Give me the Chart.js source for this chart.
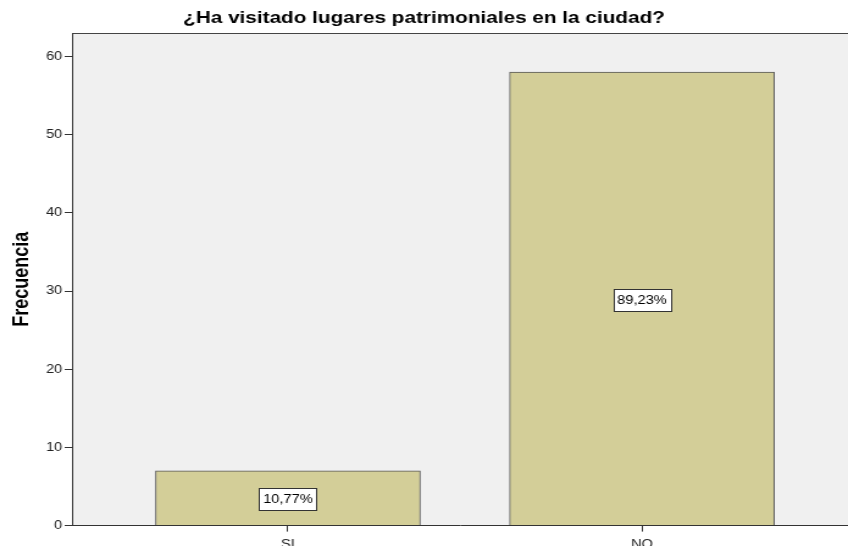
<!DOCTYPE html>
<html>
<head>
<meta charset="utf-8">
<script src="https://cdn.jsdelivr.net/npm/chart.js@4/dist/chart.umd.min.js"></script>
<style>
html,body{margin:0;padding:0;background:#fff;overflow:hidden;width:848px;height:546px;}
#wrap{width:695px;height:558px;position:relative;transform:scaleX(1.2201);transform-origin:0 0;}
</style>
</head>
<body>
<div id="wrap"><canvas id="c" width="695" height="558"></canvas></div>
<script>
const categories = ['SI', 'NO'];
const frequencies = [7, 58];
const percentLabels = ['10,77%', '89,23%'];
const yTicks = [0, 10, 20, 30, 40, 50, 60];
const titleText = '¿Ha visitado lugares patrimoniales en la ciudad?';
const yTitle = 'Frecuencia';

const dataPoints = categories.map((c, i) => ({x: i + 1, y: frequencies[i]}));
const FONT = '"Liberation Sans", Arial, sans-serif';

const framePlugin = {
  id: 'frame',
  beforeDraw(chart) {
    const {ctx, chartArea: a} = chart;
    ctx.save();
    ctx.fillStyle = '#f0f0f0';
    ctx.fillRect(a.left, a.top, a.right - a.left, a.bottom - a.top);
    ctx.strokeStyle = '#444';
    ctx.lineWidth = 1;
    ctx.beginPath();
    ctx.moveTo(a.left, a.top + 0.5);
    ctx.lineTo(a.right, a.top + 0.5);
    ctx.stroke();
    ctx.restore();
  },
  afterDatasetsDraw(chart) {
    const {ctx} = chart;
    const meta = chart.getDatasetMeta(0);
    ctx.save();
    ctx.font = '12px ' + FONT;
    ctx.textAlign = 'center';
    ctx.textBaseline = 'middle';
    meta.data.forEach((bar, i) => {
      const cx = bar.x;
      const cy = (bar.y + bar.base) / 2 + 1;
      const w = 47, h = 22;
      const x0 = Math.round(cx - w / 2) + 0.5, y0 = Math.round(cy - h / 2) + 0.5;
      ctx.fillStyle = '#ffffff';
      ctx.fillRect(x0, y0, w, h);
      ctx.strokeStyle = '#333';
      ctx.lineWidth = 1;
      ctx.strokeRect(x0, y0, w, h);
      ctx.fillStyle = '#000';
      ctx.fillText(percentLabels[i], cx, cy + 1);
    });
    ctx.restore();
  }
};

new Chart(document.getElementById('c'), {
  type: 'bar',
  data: {
    datasets: [{
      data: dataPoints,
      backgroundColor: '#d3ce98',
      borderColor: '#555',
      borderWidth: 1,
      barThickness: 217
    }]
  },
  options: {
    responsive: false,
    animation: false,
    layout: {padding: {left: 0, right: 0, top: 0, bottom: 0}},
    plugins: {
      legend: {display: false},
      tooltip: {enabled: false},
      title: {
        display: true,
        text: titleText,
        color: '#000',
        font: {family: FONT, size: 17, weight: 'bold'},
        padding: {top: 8, bottom: 4.6}
      }
    },
    scales: {
      x: {
        type: 'linear',
        offset: false,
        min: 0.39,
        max: 2.582,
        afterBuildTicks(scale) {
          scale.ticks = categories.map((c, i) => ({value: i + 1}));
        },
        ticks: {
          autoSkip: false,
          maxRotation: 0,
          color: '#222',
          padding: 6,
          font: {family: FONT, size: 12},
          callback: (v) => categories[v - 1] || ''
        },
        grid: {drawOnChartArea: false, offset: false, tickLength: 6, color: '#333'},
        border: {color: '#333', width: 1}
      },
      y: {
        min: 0,
        max: 63,
        afterBuildTicks(scale) {
          scale.ticks = yTicks.map(v => ({value: v}));
        },
        afterFit(scale) { scale.width = 59; },
        ticks: {
          color: '#222',
          padding: 2,
          font: {family: FONT, size: 12}
        },
        grid: {drawOnChartArea: false, tickLength: 6, color: '#333'},
        border: {color: '#333', width: 1},
        title: {
          display: true,
          text: yTitle,
          color: '#000',
          font: {family: FONT, size: 18, weight: 'bold'},
          padding: {top: 7.6, bottom: 0}
        }
      }
    }
  },
  plugins: [framePlugin]
});
</script>
</body>
</html>
